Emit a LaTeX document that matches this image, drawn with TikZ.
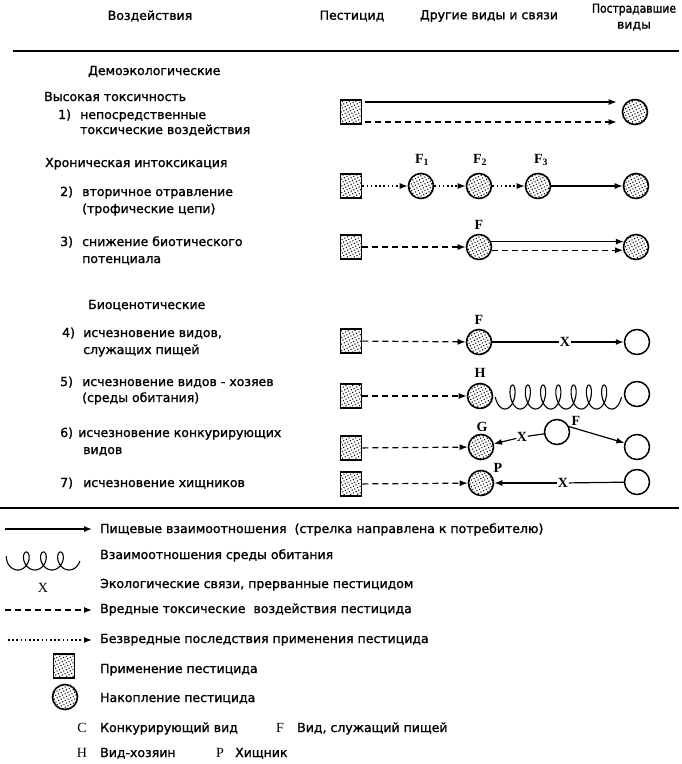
\documentclass[tikz,border=0pt]{standalone}
\usepackage{fontspec}
\setmainfont[FakeBold=1.3]{DejaVu Sans}
\newfontfamily\serifL{Liberation Serif}
\usetikzlibrary{arrows.meta,patterns.meta,calc}
\begin{document}
\begin{tikzpicture}[x=1pt,y=-1pt,
  font=\fontsize{12.5}{15}\selectfont,
  txt/.style={anchor=base west, inner sep=0pt},
  hdr/.style={inner sep=0pt, align=center},
  lab/.style={font=\serifL\bfseries\fontsize{14}{16}\selectfont, inner sep=0.5pt},
  leglet/.style={font=\serifL\fontsize{14}{16}\selectfont, inner sep=0pt, anchor=base},
  dots/.style={pattern={Dots[distance=3pt, radius=0.75pt, angle=27]}},
  sq/.style={draw, line width=1.6pt, minimum width=21pt, minimum height=24pt, inner sep=0pt, dots},
  acc/.style={circle, draw, line width=1.6pt, minimum size=25pt, inner sep=0pt, dots},
  opn/.style={circle, draw, line width=1.5pt, minimum size=25pt, inner sep=0pt},
  food/.style={line width=1.2pt, -{Latex[length=8pt,width=6pt]}},
  harm/.style={food, dash pattern=on 6pt off 4pt},
  harmless/.style={food, dash pattern=on 1.6pt off 2.6pt},
  link/.style={line width=1.2pt},
  coilline/.style={line width=1.1pt, line join=round}
]
\useasboundingbox (0,0) rectangle (682,764);

% header
\node[hdr] (h1) at (150,16) {Воздействия};
\node[hdr] (h2) at (352,16) {Пестицид};
\node[hdr] (h3) at (489,16) {Другие виды и связи};
\node[hdr, font=\fontsize{12.5}{16}\selectfont] (h4) at (634,17) {\scalebox{0.86}[1]{Пострадавшие}\\виды};
\coordinate (r1a) at (13,51);
\coordinate (r1b) at (679,51);
\draw[line width=1.8pt] (r1a) -- (r1b);

% left texts
\node[txt] (g1) at (88,75) {Демоэкологические};
\node[txt] (g2) at (44,101) {Высокая токсичность};
\node[txt] (n1) at (58,119) {1)};
\node[txt] (t1a) at (80,119) {непосредственные};
\node[txt] (t1b) at (80,134) {токсические воздействия};
\node[txt] (g3) at (45,167) {Хроническая интоксикация};
\node[txt] (n2) at (60,196) {2)};
\node[txt] (t2a) at (82,196) {вторичное отравление};
\node[txt] (t2b) at (82,213) {(трофические цепи)};
\node[txt] (n3) at (60,246) {3)};
\node[txt] (t3a) at (82,246) {снижение биотического};
\node[txt] (t3b) at (82,263) {потенциала};
\node[txt] (g4) at (88,309) {Биоценотические};
\node[txt] (n4) at (62,337) {4)};
\node[txt] (t4a) at (83,337) {исчезновение видов,};
\node[txt] (t4b) at (83,354) {служащих пищей};
\node[txt] (n5) at (60,386) {5)};
\node[txt] (t5a) at (82,386) {исчезновение видов - хозяев};
\node[txt] (t5b) at (82,402) {(среды обитания)};
\node[txt] (n6) at (60,437) {6)};
\node[txt] (t6a) at (78,437) {исчезновение конкурирующих};
\node[txt] (t6b) at (83,454) {видов};
\node[txt] (n7) at (60,487) {7)};
\node[txt] (t7a) at (83,487) {исчезновение хищников};

% row 1
\node[sq] (S1) at (351,112) {};
\node[acc] (C1) at (635,112) {};
\draw[food, shorten <=3pt, shorten >=5pt] ([yshift=10pt]S1.east) -- ([yshift=10pt]S1.east -| C1.west);
\draw[harm, shorten <=3pt, shorten >=5pt] ([yshift=-10pt]S1.east) -- ([yshift=-10pt]S1.east -| C1.west);

% row 2
\node[sq] (S2) at (351,186) {};
\node[acc] (F1) at (421,186) {};
\node[acc] (F2) at (479,186) {};
\node[acc] (F3) at (538,186) {};
\node[acc] (C2) at (636,186) {};
\node[lab] (lF1) at (422,160) {F\textsubscript{1}};
\node[lab] (lF2) at (480,160) {F\textsubscript{2}};
\node[lab] (lF3) at (541,160) {F\textsubscript{3}};
\draw[harmless] (S2) -- (F1);
\draw[harmless] (F1) -- (F2);
\draw[harmless] (F2) -- (F3);
\draw[food] (F3) -- (C2);

% row 3
\node[sq] (S3) at (351,247) {};
\node[acc] (F3b) at (479,247) {};
\node[acc] (C3) at (636,247) {};
\node[lab] (lF3b) at (479,225) {F};
\draw[harm] (S3) -- (F3b);
\draw[food] (F3b.24) -- (C3.156);
\draw[harm] (F3b.-14) -- (C3.194);

% row 4
\node[sq] (S4) at (351,341) {};
\node[acc] (F4) at (479,342) {};
\node[opn] (O4) at (637,342) {};
\node[lab] (lF4) at (479,320) {F};
\node[lab] (X4) at (565,342) {X};
\draw[harm] (S4) -- (F4);
\draw[link] (F4) -- (X4);
\draw[food] (X4) -- (O4);

% row 5
\node[sq] (S5) at (351,396) {};
\node[acc] (H5) at (480,396) {};
\node[opn] (O5) at (637,394) {};
\node[lab] (lH5) at (480,373) {H};
\draw[harm] (S5) -- (H5);
\coordinate (cs5) at ([xshift=7.8pt, yshift=-1pt]H5.east);
\begin{scope}[shift={(cs5)}]
  \draw[coilline] plot[domain=-4.712:42.412, samples=500, variable=\t]
    ({2.43*(\t+4.712) - 5.83*sin(\t r)}, {-12*cos(\t r)});
\end{scope}

% row 6
\node[sq] (S6) at (351,448) {};
\node[acc] (G6) at (481,447) {};
\node[opn] (M6) at (557,432) {};
\node[opn] (O6) at (637,447) {};
\node[lab] (lG6) at (482,427) {G};
\node[lab] (lF6) at (576,421) {F};
\node[lab] (X6) at (522,437) {X};
\draw[harm] (S6) -- (G6);
\draw[link] (M6) -- (X6);
\draw[food] (X6) -- (G6);
\draw[food] (M6.24) -- (O6.162);

% row 7
\node[sq] (S7) at (351,484) {};
\node[acc] (P7) at (481,483) {};
\node[opn] (O7) at (637,482) {};
\node[lab] (lP7) at (498,468) {P};
\node[lab] (X7) at (563,483) {X};
\draw[harm] (S7) -- (P7);
\draw[link] (O7) -- (X7);
\draw[food] (X7) -- (P7);

% bottom rule
\coordinate (r2a) at (0,508);
\coordinate (r2b) at (679,508);
\draw[line width=1.8pt] (r2a) -- (r2b);

% legend
\coordinate (la1) at (5,529);
\coordinate (lb1) at (92,529);
\draw[food] (la1) -- (lb1);
\node[txt] (L1) at (100,533) {Пищевые взаимоотношения\ \ (стрелка направлена к потребителю)};

\coordinate (la2) at (13.5,561);
\begin{scope}[shift={(la2)}]
  \draw[coilline] plot[domain=-5.3:17.28, samples=300, variable=\t]
    ({2.72*(\t+4.712) - 6.54*sin(\t r)}, {-9*cos(\t r)});
\end{scope}
\node[txt] (L2) at (100,559) {Взаимоотношения среды обитания};

\node[leglet] (LX) at (43,592) {X};
\node[txt] (L3) at (100,588) {Экологические связи, прерванные пестицидом};

\coordinate (la4) at (5,610);
\coordinate (lb4) at (92,610);
\draw[harm] (la4) -- (lb4);
\node[txt] (L4) at (100,613) {Вредные токсические\ \ воздействия пестицида};

\coordinate (la5) at (8,640);
\coordinate (lb5) at (92,640);
\draw[harmless] (la5) -- (lb5);
\node[txt] (L5) at (100,643) {Безвредные последствия применения пестицида};

\node[sq] (LS) at (64,666) {};
\node[txt] (L6) at (100,673) {Применение пестицида};

\node[acc] (LC) at (65,697) {};
\node[txt] (L7) at (100,702) {Накопление пестицида};

\node[leglet] (LCc) at (82,732) {C};
\node[txt] (L8) at (100,732) {Конкурирующий вид};
\node[leglet] (LFf) at (280,732) {F};
\node[txt] (L9) at (297,732) {Вид, служащий пищей};
\node[leglet] (LHh) at (82,757) {H};
\node[txt] (L10) at (100,757) {Вид-хозяин};
\node[leglet] (LPp) at (220,757) {P};
\node[txt] (L11) at (235,757) {Хищник};
\end{tikzpicture}
\end{document}
